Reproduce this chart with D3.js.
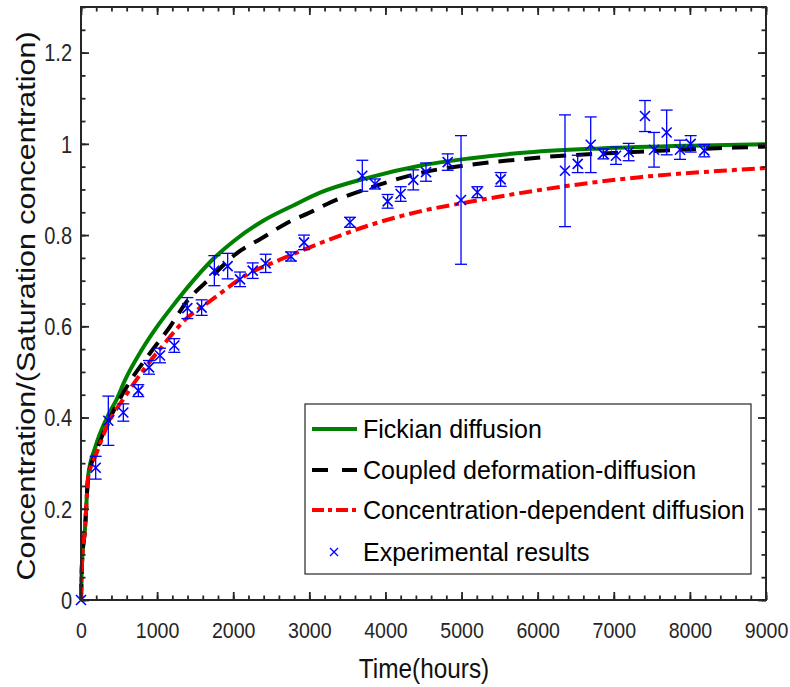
<!DOCTYPE html>
<html>
<head>
<meta charset="utf-8">
<script src="https://cdn.jsdelivr.net/npm/d3@7"></script>
<style>
  body { margin: 0; background: #fff; }
  svg { display: block; font-family: "Liberation Sans", Arial, sans-serif; }
</style>
</head>
<body>
<div id="chart"></div>
<script>
'use strict';

// experimental points (hours, normalised concentration, +/- error)
const expHours = [0,193,359,556,753,893,1038,1226,1397,1585,1752,1927,2089,2256,2426,2759,2930,3534,3696,3863,
                  4029,4200,4366,4533,4818,4993,5207,5514,6359,6526,6697,6863,7029,7196,7410,7529,7695,7870,8010,8189];
const expValue = [0,0.29,0.393,0.411,0.459,0.510,0.536,0.558,0.640,0.641,0.722,0.732,0.703,0.722,0.738,0.753,0.784,0.828,0.930,0.912,
                  0.874,0.890,0.921,0.938,0.960,0.877,0.894,0.922,0.941,0.956,0.998,0.978,0.974,0.982,1.061,0.987,1.025,0.987,1.000,0.985];
const expErr = [0,0.025,0.054,0.019,0.013,0.015,0.016,0.015,0.023,0.017,0.033,0.028,0.016,0.017,0.02,0.01,0.016,0.011,0.034,0.011,
                0.015,0.016,0.022,0.02,0.018,0.141,0.012,0.015,0.1225,0.019,0.061,0.011,0.019,0.019,0.034,0.038,0.049,0.021,0.018,0.0135];

// model curves
const fickHours = [0,13,52,96,184,359,469,578,797,1016,1235,1500,1739,2000,2400,2790,3140,3754,4450,5100,5768,6820,8000,9000];
const fickValue = [0,0.08,0.155,0.275,0.333,0.406,0.44,0.482,0.548,0.603,0.651,0.705,0.748,0.786,0.832,0.865,0.893,0.925,0.952,0.968,0.980,0.990,0.996,0.999];

const coupHours = [0,13,52,96,200,400,644,906,1169,1388,1695,2045,2374,2702,3052,3206,3841,4454,5111,5768,6162,7000,8615,9000];
const coupValue = [0,0.08,0.155,0.27,0.325,0.405,0.479,0.541,0.599,0.654,0.705,0.76,0.793,0.826,0.853,0.866,0.906,0.936,0.954,0.966,0.972,0.98,0.992,0.994];

const concHours = [0,13,52,96,200,359,578,819,1081,1366,1717,2177,2615,3200,3797,4454,5111,5768,6031,7345,8615,9000];
const concValue = [0,0.08,0.155,0.27,0.32,0.387,0.446,0.504,0.559,0.614,0.658,0.713,0.746,0.786,0.822,0.852,0.873,0.892,0.899,0.927,0.943,0.947];

const xTicks = d3.range(0, 9001, 1000);
const xMinor = d3.range(0, 9001, 200);
const yTicks = [0, 0.2, 0.4, 0.6, 0.8, 1, 1.2];
const yMinor = d3.range(0, 1.3001, 0.05);

const legendNames = ["Fickian diffusion", "Coupled deformation-diffusion",
                     "Concentration-dependent diffusion", "Experimental results"];

const W = 790, H = 687;
const pLeft = 81, pRight = 766, pTop = 7, pBottom = 600;
const ink = "#262626";

const x = d3.scaleLinear().domain([0, 9000]).range([pLeft, pRight]);
const y = d3.scaleLinear().domain([0, 1.3]).range([pBottom, pTop]);

const svg = d3.select("#chart").append("svg")
	.attr("width", W)
	.attr("height", H);

// curves
const line = d3.line().x(d => x(d[0])).y(d => y(d[1])).curve(d3.curveMonotoneX);

svg.append("path")
	.datum(d3.zip(fickHours, fickValue))
	.attr("d", line)
	.attr("fill", "none")
	.attr("stroke", "#008000")
	.attr("stroke-width", 4);

svg.append("path")
	.datum(d3.zip(coupHours, coupValue))
	.attr("d", line)
	.attr("fill", "none")
	.attr("stroke", "#000")
	.attr("stroke-width", 4)
	.attr("stroke-dasharray", "16,10");

svg.append("path")
	.datum(d3.zip(concHours, concValue))
	.attr("d", line)
	.attr("fill", "none")
	.attr("stroke", "#ff0000")
	.attr("stroke-width", 4)
	.attr("stroke-dasharray", "13,5,5,5");

// experimental points with error bars
const pts = expHours.map((h, i) => ({h: h, v: expValue[i], e: expErr[i]}));
const eb = svg.append("g").attr("stroke", "#0000ff").attr("stroke-width", 1.3).attr("fill", "none");
const withErr = pts.filter(d => d.e > 0);

eb.selectAll("line.v").data(withErr).join("line")
	.attr("class", "v")
	.attr("x1", d => x(d.h)).attr("x2", d => x(d.h))
	.attr("y1", d => y(d.v - d.e)).attr("y2", d => y(d.v + d.e));
eb.selectAll("line.t").data(withErr).join("line")
	.attr("class", "t")
	.attr("x1", d => x(d.h) - 6).attr("x2", d => x(d.h) + 6)
	.attr("y1", d => y(d.v + d.e)).attr("y2", d => y(d.v + d.e));
eb.selectAll("line.b").data(withErr).join("line")
	.attr("class", "b")
	.attr("x1", d => x(d.h) - 6).attr("x2", d => x(d.h) + 6)
	.attr("y1", d => y(d.v - d.e)).attr("y2", d => y(d.v - d.e));

const cross = s => `M${-s},${-s}L${s},${s}M${-s},${s}L${s},${-s}`;
svg.append("g").selectAll("path").data(pts).join("path")
	.attr("transform", d => `translate(${x(d.h)},${y(d.v)})`)
	.attr("d", cross(5))
	.attr("stroke", "#0000ff")
	.attr("stroke-width", 1.6)
	.attr("fill", "none");

// frame and inward ticks on all four sides
svg.append("rect")
	.attr("x", pLeft).attr("y", pTop)
	.attr("width", pRight - pLeft).attr("height", pBottom - pTop)
	.attr("fill", "none").attr("stroke", ink).attr("stroke-width", 2);

function ticks(axis, tx, ty, size) {
	svg.append("g")
		.attr("transform", `translate(${tx},${ty})`)
		.call(axis.tickSize(size).tickFormat(""))
		.call(g => g.select(".domain").remove())
		.call(g => g.selectAll("line").attr("stroke", ink).attr("stroke-width", 1.8));
}
ticks(d3.axisTop(x).tickValues(xTicks), 0, pBottom, 8);
ticks(d3.axisTop(x).tickValues(xMinor), 0, pBottom, 4.5);
ticks(d3.axisBottom(x).tickValues(xTicks), 0, pTop, 8);
ticks(d3.axisBottom(x).tickValues(xMinor), 0, pTop, 4.5);
ticks(d3.axisRight(y).tickValues(yTicks), pLeft, 0, 8);
ticks(d3.axisRight(y).tickValues(yMinor), pLeft, 0, 4.5);
ticks(d3.axisLeft(y).tickValues(yTicks), pRight, 0, 8);
ticks(d3.axisLeft(y).tickValues(yMinor), pRight, 0, 4.5);

// tick labels, squeezed horizontally like the original
svg.append("g")
	.attr("transform", `translate(0,${pBottom})`)
	.call(d3.axisBottom(x).tickValues(xTicks).tickSize(0).tickPadding(22).tickFormat(d3.format("d")))
	.call(g => g.select(".domain").remove())
	.call(g => g.selectAll("text")
		.attr("fill", ink)
		.attr("transform", "scale(0.87,1)")
		.style("font-size", "22.5px")
		.style("font-family", "Liberation Sans, Arial, sans-serif"));

svg.append("g")
	.attr("transform", `translate(${pLeft - 9},0)`)
	.call(d3.axisLeft(y).tickValues(yTicks).tickSize(0).tickPadding(0).tickFormat(d3.format("~g")))
	.call(g => g.select(".domain").remove())
	.call(g => g.selectAll("text")
		.attr("fill", ink)
		.attr("dy", "0.36em")
		.attr("transform", "scale(0.87,1)")
		.style("font-size", "23px")
		.style("font-family", "Liberation Sans, Arial, sans-serif"));

// axis titles
svg.append("text")
	.attr("transform", `translate(${(pLeft + pRight) / 2 + 0.5},678) scale(0.87,1)`)
	.attr("text-anchor", "middle")
	.style("font-size", "28px")
	.attr("fill", "#111")
	.text("Time(hours)");

svg.append("text")
	.attr("transform", "translate(35,306) rotate(-90) scale(1,0.87)")
	.attr("text-anchor", "middle")
	.style("font-size", "30.5px")
	.attr("fill", "#111")
	.text("Concentration/(Saturation concentration)");

// legend
const lg = svg.append("g");
lg.append("rect")
	.attr("x", 305).attr("y", 404).attr("width", 446).attr("height", 170)
	.attr("fill", "#fff").attr("stroke", ink).attr("stroke-width", 1.2);

const rowY = [429, 470, 510, 552];
lg.append("line").attr("x1", 312).attr("x2", 357).attr("y1", rowY[0]).attr("y2", rowY[0])
	.attr("stroke", "#008000").attr("stroke-width", 4);
lg.append("line").attr("x1", 312).attr("x2", 357).attr("y1", rowY[1]).attr("y2", rowY[1])
	.attr("stroke", "#000").attr("stroke-width", 4).attr("stroke-dasharray", "16,14");
lg.append("line").attr("x1", 312).attr("x2", 357).attr("y1", rowY[2]).attr("y2", rowY[2])
	.attr("stroke", "#ff0000").attr("stroke-width", 4).attr("stroke-dasharray", "12,4,4,4");
lg.append("path")
	.attr("transform", `translate(334,${rowY[3]})`)
	.attr("d", cross(4))
	.attr("stroke", "#0000ff").attr("stroke-width", 1.3).attr("fill", "none");

lg.selectAll("text.name").data(legendNames).join("text")
	.attr("class", "name")
	.attr("x", 363)
	.attr("y", (d, i) => rowY[i] + 9)
	.style("font-size", "25px")
	.attr("fill", "#000")
	.text(d => d);
</script>
</body>
</html>
